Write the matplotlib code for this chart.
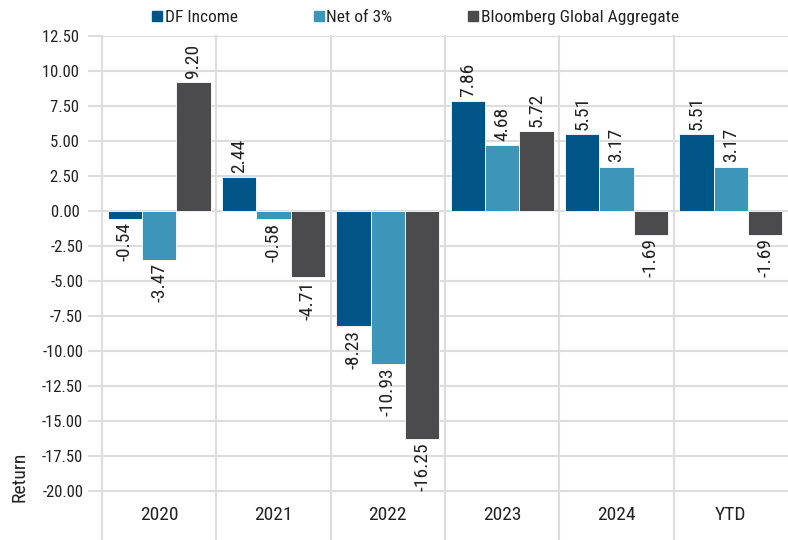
import matplotlib
matplotlib.use("Agg")
import matplotlib.pyplot as plt
from matplotlib.lines import Line2D

plt.rcParams['font.family'] = ['Roboto Condensed', 'Liberation Sans Narrow', 'Roboto', 'DejaVu Sans']

categories = ["2020", "2021", "2022", "2023", "2024", "YTD"]
series_names = ["DF Income", "Net of 3%", "Bloomberg Global Aggregate"]
df_income = [-0.54, 2.44, -8.23, 7.86, 5.51, 5.51]
net_of_3 = [-3.47, -0.58, -10.93, 4.68, 3.17, 3.17]
bbg_agg = [9.20, -4.71, -16.25, 5.72, -1.69, -1.69]
colors = ["#005587", "#3d96ba", "#4b4b4d"]
yticks = [12.5, 10, 7.5, 5, 2.5, 0, -2.5, -5, -7.5, -10, -12.5, -15, -17.5, -20]

grid_col = "#dddddd"
txt_col = "#222222"

fig = plt.figure(figsize=(7.88, 5.4), dpi=100)
ax = fig.add_axes([102/788, 0, 686/788, (540-36)/540])

bar_w = 0.3
for k, vals in enumerate([df_income, net_of_3, bbg_agg]):
    xs = [i + 0.05 + bar_w*k + bar_w/2 for i in range(len(categories))]
    ax.bar(xs, vals, width=bar_w, color=colors[k], edgecolor="white", linewidth=0.6, zorder=2)
    for x, v in zip(xs, vals):
        ax.annotate(f"{v:.2f}", (x, v), xytext=(0, 3 if v >= 0 else -2.5),
                    textcoords="offset points", rotation=90, ha="center",
                    va="bottom" if v >= 0 else "top", fontsize=14, color=txt_col)

ax.set_xlim(0, 6)
ax.set_ylim(-23.5, 12.5)
ax.set_yticks(yticks)
# positive numbers carry a trailing space, like the source's number format
ax.set_yticklabels([f"{t:.2f}" + (" " if t >= 0 else "") for t in yticks])
ax.yaxis.grid(True, color=grid_col, linewidth=1.5)
ax.set_axisbelow(True)
ax.tick_params(axis="y", length=10, width=1.5, color=grid_col, pad=3.5, labelsize=12, labelcolor=txt_col)
ax.set_xticks([])
for s in ax.spines.values():
    s.set_visible(False)
for i in range(len(categories)):
    ax.axvline(i, color=grid_col, linewidth=1.5, zorder=0, clip_on=False)
    ax.text(i + 0.5, -21.7, categories[i], ha="center", va="center", fontsize=14, color=txt_col)

fig.text(19/788, 1 - 477/540, "Return", rotation=90, ha="center", va="center", fontsize=14, color=txt_col)

handles = [Line2D([], [], marker="s", linestyle="none", markersize=7, color=c) for c in colors]
fig.legend(handles, series_names, loc="center", bbox_to_anchor=(415/788, 1 - 17/540), ncol=3,
           frameon=False, handlelength=0.7, handletextpad=0.1, columnspacing=4.3, fontsize=12.5,
           labelcolor=txt_col)

fig.savefig("out.png", dpi=100)
